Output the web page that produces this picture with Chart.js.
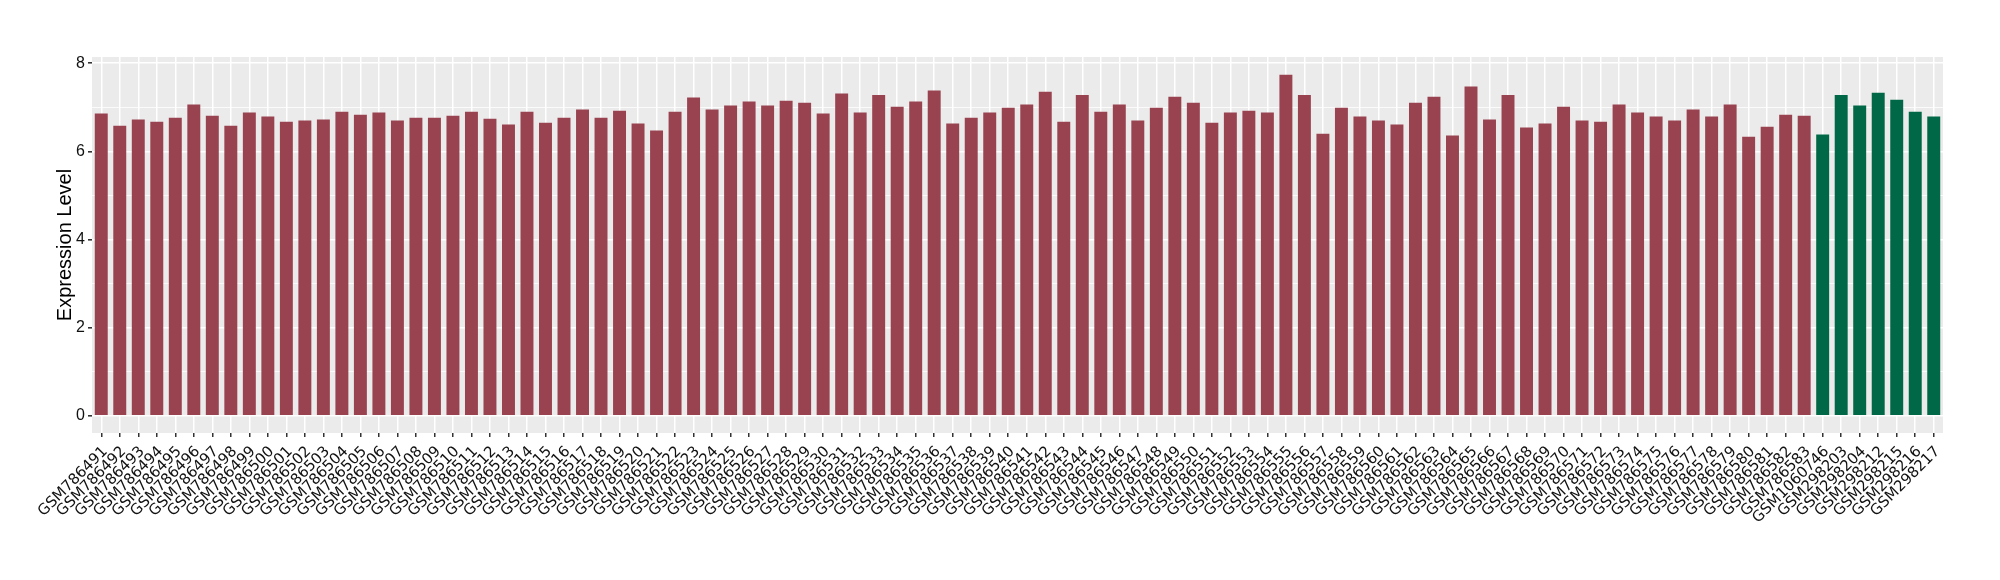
<!DOCTYPE html>
<html>
<head>
<meta charset="utf-8">
<script src="https://cdn.jsdelivr.net/npm/chart.js@4"></script>
<style>
  body { margin: 0; background: #fff; }
  #wrap { width: 2000px; height: 580px; }
</style>
</head>
<body>
<div id="wrap"><canvas id="exprChart" width="2000" height="580"></canvas></div>
<script>
// sample ids, first group (red) then second group (green)
var samplesA = ['GSM786491','GSM786492','GSM786493','GSM786494','GSM786495','GSM786496','GSM786497','GSM786498','GSM786499','GSM786500',
  'GSM786501','GSM786502','GSM786503','GSM786504','GSM786505','GSM786506','GSM786507','GSM786508','GSM786509','GSM786510',
  'GSM786511','GSM786512','GSM786513','GSM786514','GSM786515','GSM786516','GSM786517','GSM786518','GSM786519','GSM786520',
  'GSM786521','GSM786522','GSM786523','GSM786524','GSM786525','GSM786526','GSM786527','GSM786528','GSM786529','GSM786530',
  'GSM786531','GSM786532','GSM786533','GSM786534','GSM786535','GSM786536','GSM786537','GSM786538','GSM786539','GSM786540',
  'GSM786541','GSM786542','GSM786543','GSM786544','GSM786545','GSM786546','GSM786547','GSM786548','GSM786549','GSM786550',
  'GSM786551','GSM786552','GSM786553','GSM786554','GSM786555','GSM786556','GSM786557','GSM786558','GSM786559','GSM786560',
  'GSM786561','GSM786562','GSM786563','GSM786564','GSM786565','GSM786566','GSM786567','GSM786568','GSM786569','GSM786570',
  'GSM786571','GSM786572','GSM786573','GSM786574','GSM786575','GSM786576','GSM786577','GSM786578','GSM786579','GSM786580',
  'GSM786581','GSM786582','GSM786583'];
var samplesB = ['GSM1060746','GSM298203','GSM298204','GSM298212','GSM298215','GSM298216','GSM298217'];

var valuesA = [6.86, 6.58, 6.72, 6.67, 6.76, 7.06, 6.81, 6.58, 6.88, 6.79,
  6.67, 6.70, 6.72, 6.90, 6.83, 6.88, 6.70, 6.76, 6.76, 6.81,
  6.90, 6.74, 6.61, 6.90, 6.65, 6.76, 6.95, 6.76, 6.92, 6.63,
  6.47, 6.90, 7.22, 6.95, 7.04, 7.13, 7.04, 7.15, 7.10, 6.86,
  7.31, 6.88, 7.28, 7.01, 7.13, 7.38, 6.63, 6.76, 6.88, 6.99,
  7.06, 7.35, 6.67, 7.28, 6.90, 7.06, 6.70, 6.99, 7.24, 7.10,
  6.65, 6.88, 6.92, 6.88, 7.74, 7.28, 6.40, 6.99, 6.79, 6.70,
  6.61, 7.10, 7.24, 6.36, 7.47, 6.72, 7.28, 6.54, 6.63, 7.01,
  6.70, 6.67, 7.06, 6.88, 6.79, 6.70, 6.95, 6.79, 7.06, 6.33,
  6.56, 6.83, 6.81];
var valuesB = [6.38, 7.28, 7.04, 7.33, 7.17, 6.90, 6.79];

var yTicks = [0, 1, 2, 3, 4, 5, 6, 7, 8];

var colorA = '#9a4350';
var colorB = '#006846';

var labels = samplesA.concat(samplesB);
var values = valuesA.concat(valuesB);
var colors = labels.map(function (l, i) { return i < samplesA.length ? colorA : colorB; });

// grey ggplot panel behind the plot
var panelBg = {
  id: 'panelBg',
  beforeDraw: function (chart) {
    var a = chart.chartArea, c = chart.ctx;
    c.save();
    c.fillStyle = '#ebebeb';
    c.fillRect(a.left, a.top, a.right - a.left, a.bottom - a.top);
    c.restore();
  }
};

var ctx = document.getElementById('exprChart').getContext('2d');
var exprChart = new Chart(ctx, {
  type: 'bar',
  data: {
    labels: labels,
    datasets: [{
      data: values,
      backgroundColor: colors,
      borderWidth: 0,
      barPercentage: 0.7,
      categoryPercentage: 1.0
    }]
  },
  options: {
    responsive: false,
    animation: false,
    devicePixelRatio: 1,
    layout: { padding: { top: 57, right: 57, left: 0, bottom: 0 } },
    plugins: { legend: { display: false }, tooltip: { enabled: false } },
    scales: {
      x: {
        offset: true,
        afterFit: function (s) { s.height = 147; },
        grid: {
          offset: false,
          color: '#ffffff',
          lineWidth: 1.5,
          tickColor: '#333333',
          tickLength: 4,
          drawOnChartArea: true
        },
        border: { display: false },
        ticks: {
          autoSkip: false,
          minRotation: 45,
          maxRotation: 45,
          padding: 6,
          labelOffset: 4,
          color: '#111111',
          font: { family: 'DejaVu Sans', size: 15 }
        }
      },
      y: {
        min: -0.39,
        max: 8.14,
        afterFit: function (s) { s.width = 92; },
        afterBuildTicks: function (s) {
          s.ticks = yTicks.map(function (v) { return { value: v }; });
        },
        grid: {
          color: '#ffffff',
          lineWidth: function (c) { return c.tick && c.tick.value % 2 === 0 ? 1.6 : 0.8; },
          tickColor: function (c) { return c.tick && c.tick.value % 2 === 0 ? '#333333' : 'rgba(0,0,0,0)'; },
          tickLength: 4
        },
        border: { display: false },
        ticks: {
          padding: 3,
          color: '#111111',
          font: { family: 'Liberation Sans', size: 16 },
          callback: function (v) { return v % 2 === 0 ? v : ''; }
        },
        title: {
          display: true,
          text: 'Expression Level',
          color: '#000000',
          font: { family: 'Liberation Sans', size: 20 },
          padding: { top: 53, bottom: 4 }
        }
      }
    }
  },
  plugins: [panelBg]
});
</script>
</body>
</html>
